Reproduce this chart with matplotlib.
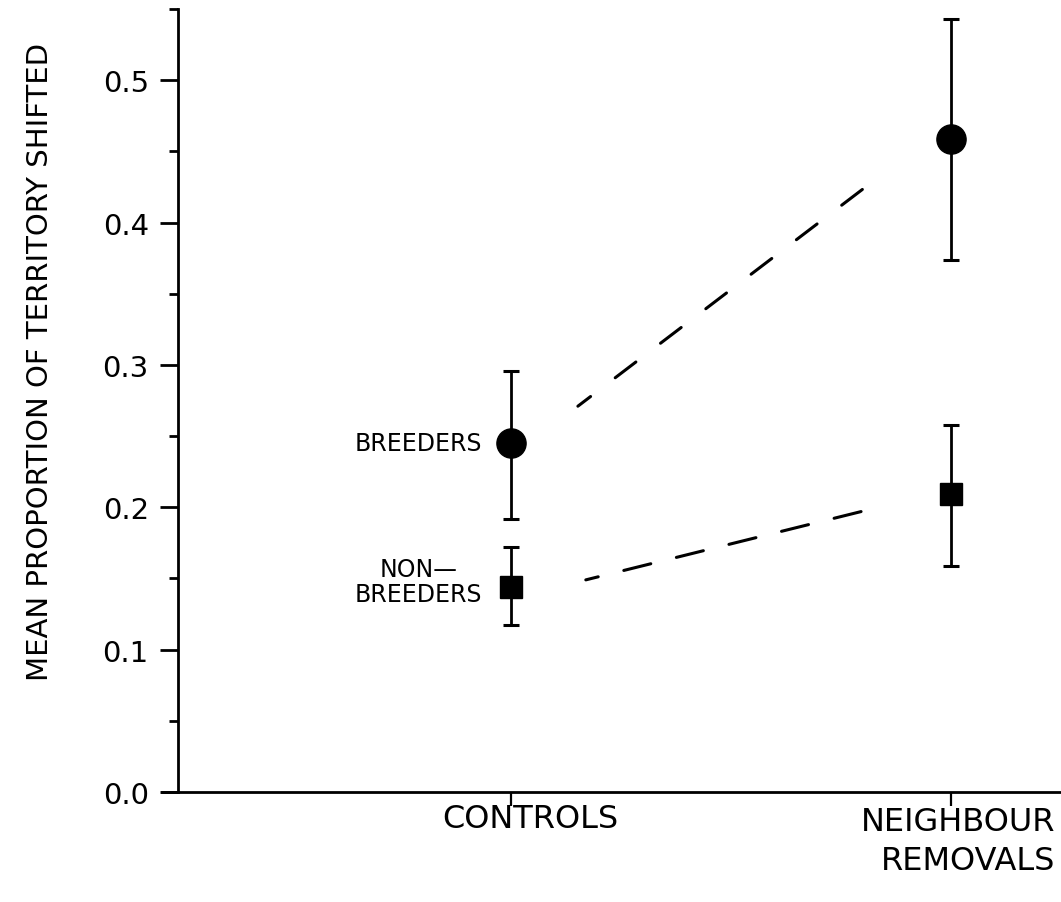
import matplotlib
matplotlib.use("Agg")
import matplotlib.pyplot as plt
from matplotlib.ticker import MultipleLocator

# Treatment groups (x positions 1 and 2)
groups = ["CONTROLS", "NEIGHBOUR\nREMOVALS"]
group_x = [1, 2]

# Mean proportion of territory shifted with error-bar limits
breeders_mean = [0.245, 0.459]
breeders_low = [0.192, 0.374]
breeders_high = [0.296, 0.543]

nonbreeders_mean = [0.144, 0.209]
nonbreeders_low = [0.117, 0.159]
nonbreeders_high = [0.172, 0.258]

# Dashed trend lines drawn between the groups
breeders_trend_x = [1.152, 1.823]
breeders_trend_y = [0.271, 0.429]
nonbreeders_trend_x = [1.170, 1.809]
nonbreeders_trend_y = [0.149, 0.198]

y_major = [0.0, 0.1, 0.2, 0.3, 0.4, 0.5]
y_major_labels = ["0.0", "0.1", "0.2", "0.3", "0.4", "0.5"]

W, H = 1061, 903
fig = plt.figure(figsize=(W / 100, H / 100), dpi=100)
ax_left_px, ax_right_px = 162, 1061
ax_bottom_px, ax_top_px = 793, 10
ax = fig.add_axes([ax_left_px / W, 1 - ax_bottom_px / H,
                   (ax_right_px - ax_left_px) / W, (ax_bottom_px - ax_top_px) / H])

px_per_unit = 440.0
x0 = 1 - (511 - ax_left_px) / px_per_unit
x1 = 1 + (ax_right_px - 511) / px_per_unit
ax.set_xlim(x0, x1)
ax.set_ylim(0, 0.55)

# y-axis spine sits a little to the right of the axes' left edge
spine_x = 1 - (511 - 178) / px_per_unit

ink = "black"
lw_axis = 2.0

for s in ["top", "right"]:
    ax.spines[s].set_visible(False)
ax.spines["left"].set_position(("data", spine_x))
ax.spines["left"].set_linewidth(lw_axis)
ax.spines["bottom"].set_linewidth(lw_axis)
ax.spines["bottom"].set_bounds(x0, x1)

ax.set_yticks(y_major)
ax.set_yticklabels(y_major_labels)
ax.yaxis.set_minor_locator(MultipleLocator(0.05))
ax.tick_params(axis="y", which="major", direction="out", length=13, width=2,
               labelsize=21, pad=8, colors=ink)
ax.tick_params(axis="y", which="minor", direction="out", length=6.5, width=2)

ax.set_xticks(group_x)
ax.set_xticklabels([])
ax.tick_params(axis="x", which="major", direction="out", length=10, width=1.6)

# Error bars and markers
ax.errorbar(group_x, breeders_mean,
            yerr=[[m - lo for m, lo in zip(breeders_mean, breeders_low)],
                  [hi - m for m, hi in zip(breeders_mean, breeders_high)]],
            fmt="o", color=ink, markersize=21, elinewidth=2.0,
            capsize=5.8, capthick=2.2, zorder=3)
ax.errorbar(group_x, nonbreeders_mean,
            yerr=[[m - lo for m, lo in zip(nonbreeders_mean, nonbreeders_low)],
                  [hi - m for m, hi in zip(nonbreeders_mean, nonbreeders_high)]],
            fmt="s", color=ink, markersize=16, elinewidth=2.0,
            capsize=5.8, capthick=2.2, zorder=3)

# Dashed connecting lines (dash pattern in points, scaled by line width)
lw_dash = 2.2
ax.plot(breeders_trend_x, breeders_trend_y, color=ink, lw=lw_dash,
        linestyle=(7.2 / lw_dash, (18.7 / lw_dash, 22.3 / lw_dash)),
        dash_capstyle="round")
ax.plot(nonbreeders_trend_x, nonbreeders_trend_y, color=ink, lw=lw_dash,
        linestyle=(10.8 / lw_dash, (20.0 / lw_dash, 19.0 / lw_dash)),
        dash_capstyle="round")

# Series labels
label_x = 1 - (511 - 482) / px_per_unit
ax.text(label_x, breeders_mean[0], "BREEDERS", ha="right", va="center",
        fontsize=17, color=ink)
ax.text(label_x, nonbreeders_mean[0] + 0.004, "NON\u2014\nBREEDERS", ha="right",
        va="center", fontsize=17, color=ink, multialignment="center",
        linespacing=1.05)

# Group labels under the axis
fig.text(530 / W, 1 - 820 / H, groups[0], ha="center", va="center",
         fontsize=23, color=ink)
fig.text(1055 / W, 1 - 842 / H, groups[1], ha="right", va="center",
         fontsize=23, color=ink, multialignment="right", linespacing=1.35)

# Y-axis title
fig.text(40 / W, 1 - 362 / H, "MEAN PROPORTION OF TERRITORY SHIFTED",
         rotation=90, ha="center", va="center", fontsize=21,
         family="DejaVu Sans", color=ink)

fig.savefig("out.png", dpi=100, facecolor="white")
